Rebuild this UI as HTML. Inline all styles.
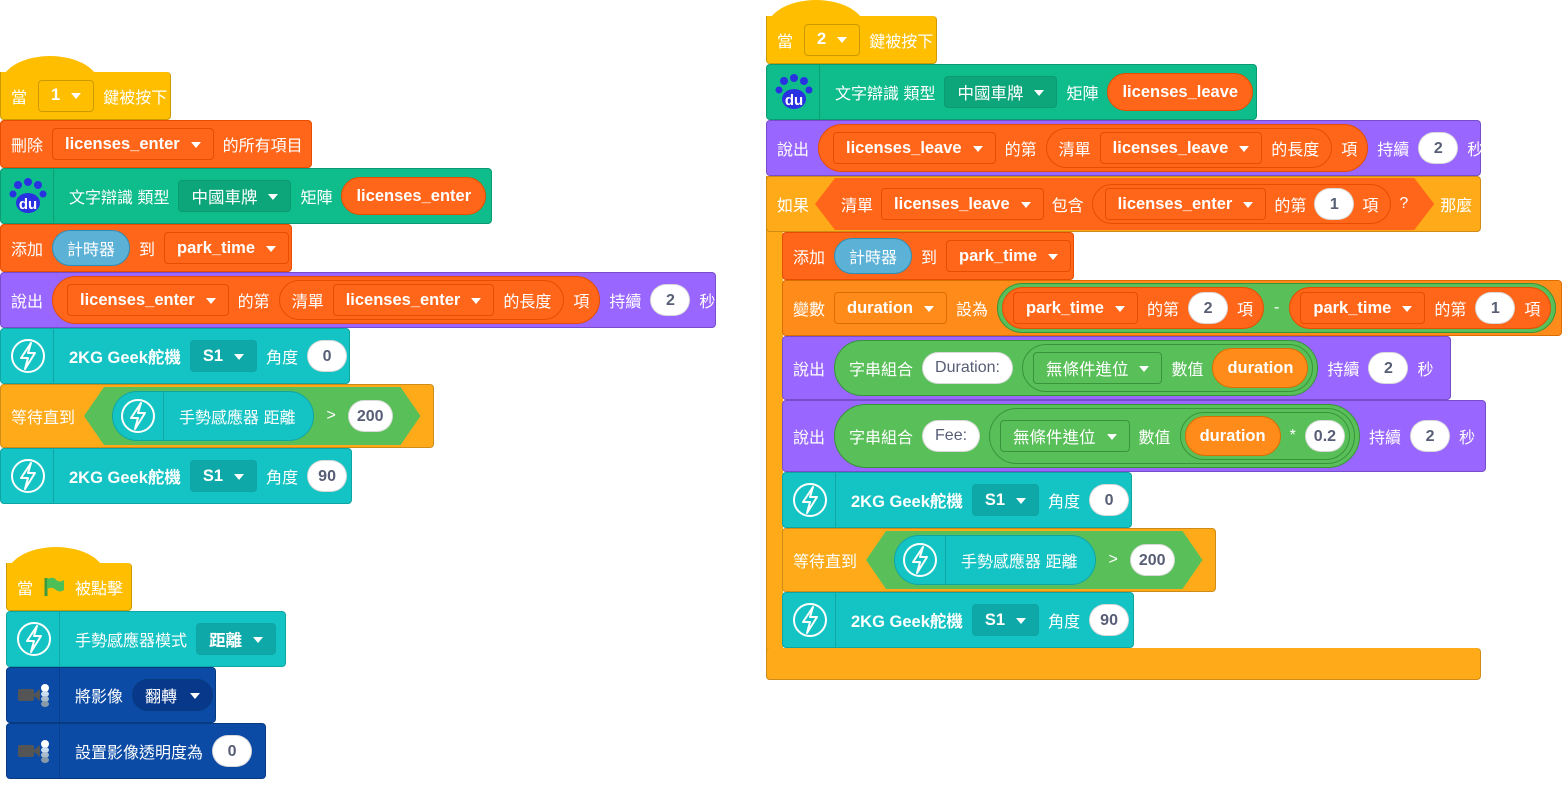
<!DOCTYPE html>
<html><head><meta charset="utf-8">
<style>
body{margin:0;width:1563px;height:788px;background:#fff;position:relative;overflow:hidden;font-family:"Liberation Sans","Noto Sans CJK TC",sans-serif;}
.b{position:absolute;box-sizing:border-box;border:1px solid rgba(0,0,0,.18);border-radius:4px;display:flex;align-items:center;padding-left:10px;gap:9px;color:#fff;font-size:16px;white-space:nowrap}
.cap{position:absolute;border-radius:50% 50% 0 0/100% 100% 0 0;}
.dd{display:inline-flex;align-items:center;height:32px;padding:0 12px;border-radius:4px;border:1px solid rgba(0,0,0,.18);font-weight:bold;font-size:16.5px;box-sizing:border-box;gap:11px}
.dd:after{content:"";border:5px solid transparent;border-top:6px solid #fff;margin-top:6px}
.r{display:inline-flex;align-items:center;height:38px;padding:0 12px;border-radius:20px;border:1px solid rgba(0,0,0,.18);box-sizing:border-box;gap:9px}
.n{display:inline-flex;align-items:center;justify-content:center;background:#fff;color:#575e75;border-radius:16px;min-width:40px;height:32px;padding:2px 8px 0;box-sizing:border-box;border:1px solid rgba(0,0,0,.15);font-weight:bold}
.bd{font-weight:bold;font-size:16.5px}
.Y{background:#ffbf00;border-color:#cc9900}
.L{background:#ff661a;border-color:#e64d00}
.T{background:#0fbd8c;border-color:#0b9a72}
.P{background:#9966ff;border-color:#774dcb}
.C{background:#14c3c3;border-color:#10a5a5}
.O{background:#ffab19;border-color:#cf8b17}
.V{background:#ff8c1a;border-color:#db6e00}
.G{background:#59c059;border-color:#389438}
.S{background:#5cb1d6;border-color:#2e8eb8}
.K{background:#0b4ba6;border-color:#083a80}
.ic{width:50px;height:100%;display:flex;align-items:center;justify-content:center;border-right:1px solid rgba(0,0,0,.15);margin-left:-8px;margin-right:6px;flex:none}
.hex{display:inline-flex;align-items:center;gap:12px;height:58px;padding:0 28px;clip-path:polygon(20px 0,calc(100% - 20px) 0,100% 50%,calc(100% - 20px) 100%,20px 100%,0 50%);}
</style></head><body>
<svg width="0" height="0" style="position:absolute"><defs>
<g id="bolt"><circle cx="18" cy="18" r="16" fill="none" stroke="#fff" stroke-width="2"/><path d="M21 5 L11 20 H18 L15 31 L25 15 H18 Z" fill="none" stroke="#fff" stroke-width="2" stroke-linejoin="round"/></g>
<g id="paw"><circle cx="10" cy="8" r="4" fill="#2932e1"/><circle cx="20" cy="5" r="4" fill="#2932e1"/><circle cx="30" cy="8" r="4" fill="#2932e1"/><circle cx="5" cy="17" r="3.5" fill="#2932e1"/><circle cx="35" cy="17" r="3.5" fill="#2932e1"/><ellipse cx="20" cy="26" rx="12" ry="10" fill="#2932e1"/><text x="20" y="32" fill="#fff" font-size="15" font-weight="bold" text-anchor="middle" font-family="Liberation Sans">du</text></g>
<g id="cam"><rect x="2" y="9" width="16" height="12" rx="2" fill="#555"/><path d="M17 15 L24 9 V21Z" fill="#555"/><circle cx="29" cy="8" r="4" fill="#fff"/><ellipse cx="29" cy="14" rx="4" ry="3" fill="#cde"/><ellipse cx="29" cy="19" rx="4" ry="3" fill="#abc"/><ellipse cx="29" cy="24" rx="4" ry="3" fill="#89a"/></g>
</defs></svg>

<!-- Script 1 -->
<div class="cap Y" style="left:0;top:56px;width:100px;height:30px"></div>
<div class="b Y" style="left:0;top:72px;width:171px;height:48px;border-top:none;border-radius:0 4px 4px 4px"><span>當</span><span class="dd Y" style="margin-left:2px">1</span><span>鍵被按下</span></div>
<div class="b L" style="left:0;top:120px;width:312px;height:48px"><span>刪除</span><span class="dd L">licenses_enter</span><span>的所有項目</span></div>
<div class="b T" style="left:0;top:168px;width:492px;height:56px"><span class="ic"><svg width="40" height="38"><use href="#paw"/></svg></span><span>文字辯識 類型</span><span class="dd T" style="background:#0da57a;font-weight:normal">中國車牌</span><span>矩陣</span><span class="r L bd" style="padding:0 14px">licenses_enter</span></div>
<div class="b L" style="left:0;top:224px;width:292px;height:48px"><span>添加</span><span class="r S" style="height:36px;padding:0 14px">計時器</span><span>到</span><span class="dd L">park_time</span></div>
<div class="b P" style="left:0;top:272px;width:716px;height:56px"><span>說出</span><span class="r L" style="height:48px;padding:0 10px 0 14px;border-radius:24px"><span class="dd L">licenses_enter</span><span>的第</span><span class="r L" style="height:40px">清單<span class="dd L">licenses_enter</span>的長度</span><span>項</span></span><span>持續</span><span class="n">2</span><span>秒</span></div>
<div class="b C" style="left:0;top:328px;width:350px;height:56px"><span class="ic"><svg width="36" height="36"><use href="#bolt"/></svg></span><span class="bd">2KG Geek舵機</span><span class="dd C" style="background:#0fa8a8">S1</span><span>角度</span><span class="n">0</span></div>
<div class="b O" style="left:0;top:384px;width:434px;height:64px"><span>等待直到</span><span class="hex G"><span class="r C" style="height:50px;padding:0 18px 0 0;border-radius:25px"><span class="ic" style="margin-left:0"><svg width="36" height="36"><use href="#bolt"/></svg></span>手勢感應器 距離</span><span>&gt;</span><span class="n">200</span></span></div>
<div class="b C" style="left:0;top:448px;width:352px;height:56px"><span class="ic"><svg width="36" height="36"><use href="#bolt"/></svg></span><span class="bd">2KG Geek舵機</span><span class="dd C" style="background:#0fa8a8">S1</span><span>角度</span><span class="n">90</span></div>

<!-- Script 2 -->
<div class="cap Y" style="left:6px;top:547px;width:100px;height:30px"></div>
<div class="b Y" style="left:6px;top:563px;width:126px;height:48px;border-top:none;border-radius:0 4px 4px 4px"><span>當</span><svg width="24" height="22"><path d="M4 2 V20" stroke="#3d9a3d" stroke-width="3"/><path d="M5 3 Q12 0 14 4 Q18 7 22 4 V14 Q18 17 14 14 Q10 10 5 13Z" fill="#4cbf56"/></svg><span>被點擊</span></div>
<div class="b C" style="left:6px;top:611px;width:280px;height:56px"><span class="ic"><svg width="36" height="36"><use href="#bolt"/></svg></span><span>手勢感應器模式</span><span class="dd C" style="background:#0fa8a8">距離</span></div>
<div class="b K" style="left:6px;top:667px;width:210px;height:56px"><span class="ic"><svg width="36" height="30"><use href="#cam"/></svg></span><span>將影像</span><span class="r K" style="height:32px;background:#08388a">翻轉<span style="border:5px solid transparent;border-top:6px solid #fff;margin-top:6px;margin-left:4px"></span></span></div>
<div class="b K" style="left:6px;top:723px;width:260px;height:56px"><span class="ic"><svg width="36" height="30"><use href="#cam"/></svg></span><span>設置影像透明度為</span><span class="n">0</span></div>

<!-- Script 3 -->
<div class="cap Y" style="left:766px;top:0;width:100px;height:30px"></div>
<div class="b Y" style="left:766px;top:16px;width:171px;height:48px;border-top:none;border-radius:0 4px 4px 4px"><span>當</span><span class="dd Y" style="margin-left:2px">2</span><span>鍵被按下</span></div>
<div class="b T" style="left:766px;top:64px;width:491px;height:56px"><span class="ic"><svg width="40" height="38"><use href="#paw"/></svg></span><span>文字辯識 類型</span><span class="dd T" style="background:#0da57a;font-weight:normal">中國車牌</span><span>矩陣</span><span class="r L bd" style="padding:0 14px">licenses_leave</span></div>
<div class="b P" style="left:766px;top:120px;width:715px;height:56px"><span>說出</span><span class="r L" style="height:48px;padding:0 10px 0 14px;border-radius:24px"><span class="dd L">licenses_leave</span><span>的第</span><span class="r L" style="height:40px">清單<span class="dd L">licenses_leave</span>的長度</span><span>項</span></span><span>持續</span><span class="n">2</span><span>秒</span></div>
<!-- if C -->
<div style="position:absolute;left:766px;top:176px;width:17px;height:504px;background:#ffab19;border-left:1px solid #cf8b17;border-bottom:1px solid #cf8b17;border-radius:0 0 0 4px;box-sizing:border-box"></div>
<div class="b O" style="left:766px;top:648px;width:715px;height:32px;border-top:none"></div>
<div class="b O" style="left:766px;top:176px;width:715px;height:56px;gap:6px"><span>如果</span><span class="hex L" style="height:52px;padding:0 26px;gap:8px"><span>清單</span><span class="dd L">licenses_leave</span><span>包含</span><span class="r L" style="height:40px;gap:8px"><span class="dd L">licenses_enter</span>的第<span class="n">1</span>項</span><span>?</span></span><span>那麼</span></div>
<div class="b L" style="left:782px;top:232px;width:292px;height:48px"><span>添加</span><span class="r S" style="height:36px;padding:0 14px">計時器</span><span>到</span><span class="dd L">park_time</span></div>
<div class="b V" style="left:782px;top:280px;width:780px;height:56px"><span>變數</span><span class="dd V">duration</span><span>設為</span><span class="r G" style="height:50px;padding:0 4px;gap:10px;border-radius:25px"><span class="r L" style="height:42px;padding:0 10px;border-radius:21px"><span class="dd L">park_time</span>的第<span class="n">2</span>項</span><span>-</span><span class="r L" style="height:42px;padding:0 10px;border-radius:21px"><span class="dd L">park_time</span>的第<span class="n">1</span>項</span></span></div>
<div class="b P" style="left:782px;top:336px;width:669px;height:64px"><span>說出</span><span class="r G" style="height:56px;padding:0 4px 0 14px;border-radius:28px"><span>字串組合</span><span class="n" style="padding:0 12px;height:32px;font-weight:normal">Duration:</span><span class="r G" style="height:48px;padding:0 4px 0 10px;border-radius:24px"><span class="dd G" style="font-weight:normal">無條件進位</span>數值<span class="r V bd" style="height:40px;padding:0 14px">duration</span></span></span><span>持續</span><span class="n">2</span><span>秒</span></div>
<div class="b P" style="left:782px;top:400px;width:704px;height:72px"><span>說出</span><span class="r G" style="height:64px;padding:0 4px 0 14px;border-radius:32px"><span>字串組合</span><span class="n" style="padding:0 12px;height:32px;font-weight:normal">Fee:</span><span class="r G" style="height:56px;padding:0 4px 0 10px;border-radius:28px"><span class="dd G" style="font-weight:normal">無條件進位</span>數值<span class="r G" style="height:48px;padding:0 4px;border-radius:24px"><span class="r V bd" style="height:40px;padding:0 14px">duration</span>*<span class="n">0.2</span></span></span></span><span>持續</span><span class="n">2</span><span>秒</span></div>
<div class="b C" style="left:782px;top:472px;width:350px;height:56px"><span class="ic"><svg width="36" height="36"><use href="#bolt"/></svg></span><span class="bd">2KG Geek舵機</span><span class="dd C" style="background:#0fa8a8">S1</span><span>角度</span><span class="n">0</span></div>
<div class="b O" style="left:782px;top:528px;width:434px;height:64px"><span>等待直到</span><span class="hex G"><span class="r C" style="height:50px;padding:0 18px 0 0;border-radius:25px"><span class="ic" style="margin-left:0"><svg width="36" height="36"><use href="#bolt"/></svg></span>手勢感應器 距離</span><span>&gt;</span><span class="n">200</span></span></div>
<div class="b C" style="left:782px;top:592px;width:352px;height:56px"><span class="ic"><svg width="36" height="36"><use href="#bolt"/></svg></span><span class="bd">2KG Geek舵機</span><span class="dd C" style="background:#0fa8a8">S1</span><span>角度</span><span class="n">90</span></div>
</body></html>
